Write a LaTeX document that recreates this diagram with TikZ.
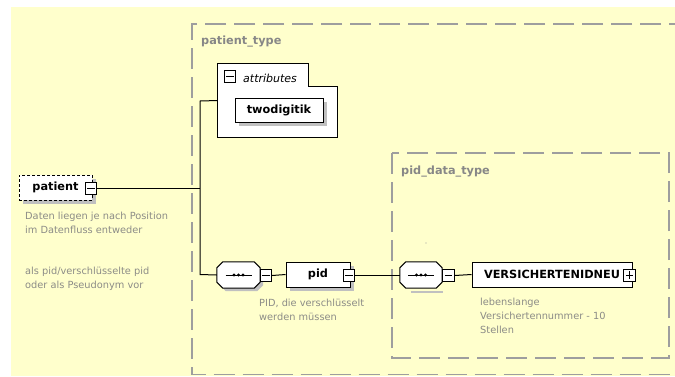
\documentclass[tikz,border=0pt]{standalone}
\usepackage{fontspec}
\setmainfont{DejaVu Sans}
\usetikzlibrary{calc,shadows}
\definecolor{bgyellow}{RGB}{255,255,204}
\definecolor{dashgray}{RGB}{158,158,158}
\definecolor{labgray}{RGB}{135,135,135}
\definecolor{descgray}{RGB}{140,140,135}
\definecolor{shadowgray}{RGB}{192,192,192}
\newcommand{\elemfont}{\fontsize{11.3}{13}\selectfont\bfseries}
\newcommand{\descfont}{\fontsize{9.8}{14}\selectfont}
\begin{document}
\begin{tikzpicture}[x=1pt,y=-1pt,
  typebox/.style={draw=dashgray, line width=1.3pt, dash pattern=on 21pt off 8pt},
  typelabel/.style={text=labgray, font=\elemfont, inner sep=0pt, anchor=base west},
  elem/.style={draw=black, line width=1pt, fill=white, inner sep=0pt, font=\elemfont},
  shad/.style={drop shadow={shadow xshift=4pt, shadow yshift=-4pt, fill=shadowgray, opacity=1}},
  desc/.style={text=descgray, font=\descfont, inner sep=0pt, anchor=base west, align=left},
  conn/.style={draw=black, line width=1pt},
  minusbox/.style={draw=black, line width=0.8pt, fill=white, minimum width=11.5pt, minimum height=12pt, inner sep=0pt,
    path picture={\draw[line width=0.8pt] ([xshift=2pt]path picture bounding box.west) -- ([xshift=-2pt]path picture bounding box.east);}},
  plusbox/.style={minusbox, path picture={\draw[line width=0.8pt] ([xshift=2pt]path picture bounding box.west) -- ([xshift=-2pt]path picture bounding box.east);
    \draw[line width=0.8pt] ([yshift=-2pt]path picture bounding box.north) -- ([yshift=2pt]path picture bounding box.south);}},
  seqhold/.style={minimum width=43pt, minimum height=26pt, inner sep=0pt}
]
\useasboundingbox (0,0) rectangle (675,376);
\fill[bgyellow] (11,7) rectangle (675,376);

% type boxes
\draw[typebox] (690,24) -- (192,24) -- (192,374.5) -- (690,374.5);
\node[typelabel] (ptlabel) at (201,44) {patient\_type};
\draw[typebox] (392,153) rectangle (669,358);
\node[typelabel] (pdtlabel) at (401,174) {pid\_data\_type};
\fill[dashgray] (426,243) circle (0.6);

% patient element
\node[elem, dashed, dash pattern=on 3pt off 2pt, shad, minimum width=73pt, minimum height=25pt] (patient) at (55.5,187.5) {patient\hspace{5pt}};
\node[minusbox] (patientm) at (91,188) {};
\node[desc] (pdesc1) at (25,233) {Daten liegen je nach Position\\im Datenfluss entweder};
\node[desc] (pdesc2) at (25,288) {als pid/verschlüsselte pid\\oder als Pseudonym vor};

% junction
\coordinate (jmid) at (200,188);
\coordinate (jtop) at (200,101);
\coordinate (jbot) at (200,274.5);

% attributes group
\node[seqhold, minimum width=119pt, minimum height=73pt] (attr) at (277.5,100.5) {};
\draw[line width=1pt, fill=white] (attr.north west) -- ($(attr.north west)+(91,0)$) -- ($(attr.north west)+(91,23)$)
  -- ($(attr.north east)+(0,23)$) -- (attr.south east) -- (attr.south west) -- cycle;
\node[minusbox] (attrm) at (230,76) {};
\node[inner sep=0pt, anchor=base west, font=\fontsize{11}{13}\selectfont\itshape] (attrlabel) at (243,82) {attributes};
\node[elem, shad, minimum width=88pt, minimum height=24pt] (twodig) at (279,110) {twodigitik};

% first sequence
\node[seqhold] (seq1) at (238.5,275) {};
\fill[shadowgray] ($(seq1.north west)+(9,3)$) -- ($(seq1.north east)+(-3,3)$) -- ($(seq1.north east)+(3,9)$) -- ($(seq1.south east)+(3,-3)$)
  -- ($(seq1.south east)+(-3,3)$) -- ($(seq1.south west)+(9,3)$) -- ($(seq1.south west)+(3,-3)$) -- ($(seq1.north west)+(3,9)$) -- cycle;
\draw[line width=1pt, fill=white] ($(seq1.north west)+(6,0)$) -- ($(seq1.north east)+(-6,0)$) -- ($(seq1.north east)+(0,6)$) -- ($(seq1.south east)+(0,-6)$)
  -- ($(seq1.south east)+(-6,0)$) -- ($(seq1.south west)+(6,0)$) -- ($(seq1.south west)+(0,-6)$) -- ($(seq1.north west)+(0,6)$) -- cycle;
\draw[line width=1pt] ($(seq1.center)+(-13,0)$) -- ($(seq1.center)+(13,0)$);
\foreach \dx in {-4.5,0,4.5} \fill ($(seq1.center)+(\dx,0)$) circle (1.7);
\node[minusbox] (seq1m) at (266,275.5) {};

% pid element
\node[elem, shad, minimum width=64pt, minimum height=25pt] (pid) at (318,274.5) {pid\hspace{20pt}};
\node[minusbox] (pidm) at (349,275) {};
\node[desc] (piddesc) at (259,320) {PID, die verschlüsselt\\werden müssen};

% second sequence
\node[seqhold, minimum width=42pt] (seq2) at (421,275) {};
\draw[shadowgray, line width=1.5pt] ($(seq2.south west)+(11,4)$) -- ($(seq2.south east)+(1,4)$);
\draw[line width=1pt, fill=white] ($(seq2.north west)+(6,0)$) -- ($(seq2.north east)+(-6,0)$) -- ($(seq2.north east)+(0,6)$) -- ($(seq2.south east)+(0,-6)$)
  -- ($(seq2.south east)+(-6,0)$) -- ($(seq2.south west)+(6,0)$) -- ($(seq2.south west)+(0,-6)$) -- ($(seq2.north west)+(0,6)$) -- cycle;
\draw[line width=1pt] ($(seq2.center)+(-13,0)$) -- ($(seq2.center)+(13,0)$);
\foreach \dx in {-4.5,0,4.5} \fill ($(seq2.center)+(\dx,0)$) circle (1.7);
\node[minusbox] (seq2m) at (448.5,275.5) {};

% VERSICHERTENIDNEU
\node[elem, minimum width=160pt, minimum height=25pt] (vers) at (552,274.5) {VERSICHERTENIDNEU\hspace{4pt}};
\node[plusbox] (versp) at (629.5,275) {};
\node[desc] (versdesc) at (480,333) {lebenslange\\Versichertennummer - 10\\Stellen};

% connectors
\draw[conn] (patientm.east) -- (jmid);
\draw[conn] (attr.west) -- (jtop) -- (jbot) -- (seq1.west);
\draw[conn] (seq1m.east) -- (pid.west);
\draw[conn] (pidm.east) -- (seq2.west);
\draw[conn] (seq2m.east) -- (vers.west);
\end{tikzpicture}
\end{document}
